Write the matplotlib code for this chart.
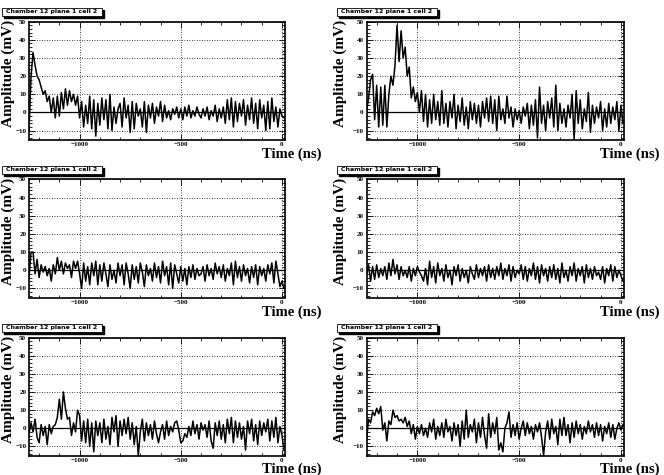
import numpy as np
import matplotlib
matplotlib.use("Agg")
import matplotlib.pyplot as plt
from matplotlib.ticker import MultipleLocator
from matplotlib.patches import Rectangle

# sample times in ns (10 ns steps)
t = np.arange(-1250, 11, 10)

sig_1 = [-10, 20, 33, 26, 20, 18, 14, 10, 12, 6, 9, 0, 8, -3, 9, -2, 11, 2, 13, 4,
         12, 6, 10, 4, 9, -3, 6, -8, 4, -6, 9, -9, 7, -13, 5, -7, 8, -4, 7, -9,
         10, -10, 3, -6, 2, 5, -8, 8, -3, 4, -11, 6, -9, 5, -2, 2, -8, 6, -11, 4,
         -3, 5, -6, 3, -2, 6, -5, 4, -3, 1, -4, 2, -1, 3, -3, 2, -4, 3, -2, 4,
         -3, 1, -2, 3, -1, -3, 2, -2, 3, -4, 1, -2, 4, -5, 2, -3, 3, -6, 7, -4,
         8, -8, 6, -5, 5, -2, 7, -7, 4, -4, 8, -6, 5, -9, 7, -3, 4, -10, 6, -9,
         8, -5, 3, -8, 2, -2, -3]

sig_2 = [0, 8, 18, 21, -4, 15, -8, 14, -7, 15, -8, 10, 20, 15, 26, 48, 28, 45, 30, 36,
         20, 25, 8, 14, 6, 11, 0, 12, -5, 10, -8, 7, -6, 10, -4, 6, -7, 12, -6, 5,
         -8, 6, -3, 10, -9, 4, -5, 8, -7, 3, -9, 6, -4, 5, -6, 4, -8, 6, -3, 8,
         -5, 9, -6, 7, -10, 9, -4, 2, -6, 9, -3, 3, -8, 2, -4, 1, -6, 3, -2, 5,
         -9, 4, -7, 7, -14, 14, -6, 4, -10, 6, -3, 8, -8, 15, -10, 5, -6, 2, -8, 4,
         -3, 10, -15, 12, -6, 7, -9, 2, -5, 11, -11, 4, -6, 3, -3, 6, -10, 2, -8, 5,
         -6, 3, -4, 6, -10, 4, -6]

sig_3 = [-4, 10, 10, -2, 6, -4, 3, -1, 2, -3, 1, -6, 3, -2, 7, 0, 5, -2, 4, 1,
         3, -4, 5, 1, 5, -2, -10, 4, -6, 2, -8, 4, -3, 5, -8, 3, -6, 4, -2, -9,
         3, -5, 0, -7, 4, -3, 3, -8, 4, -2, -10, 3, -5, 2, -7, 4, -1, -9, 3, -3,
         1, -6, 4, -4, 2, -7, 5, -3, 2, -8, 4, -10, 3, -2, -7, 2, -6, 1, -8, 2,
         -4, 3, -5, 1, -3, -2, 2, -6, 3, -3, 1, -5, 4, -2, 2, -4, 3, -6, 1, -3,
         4, -8, 5, -4, 2, -6, 3, -3, 1, -7, 2, -4, 3, -8, 2, -3, 1, -6, 3, -2,
         4, -7, 5, -2, -9, -6, -10]

sig_4 = [-2, 3, -6, 2, -5, 3, -4, 1, -3, 2, -5, 4, -3, 6, -2, 3, -5, 2, -3, 0,
         -4, 2, -6, 1, -3, 2, -1, -3, -6, 1, -8, 5, -4, 2, -7, 4, -3, 1, -6, 3,
         -4, 0, -8, 2, -3, 3, -6, 1, -4, 0, -7, 2, -2, -5, 3, -4, 1, -3, 2, -6,
         3, -4, 1, -5, 2, -3, 4, -5, 1, -3, 3, -6, 2, -4, 0, -2, 3, -5, 2, -6,
         1, -3, 4, -5, 2, -7, 3, -3, 1, -6, 2, -4, 3, -5, 1, -7, 4, -4, 0, -6,
         2, -3, 4, -6, 1, -3, 2, -7, 3, -4, 1, -5, 2, -3, -1, -5, 2, -7, 1, -3,
         3, -6, 2, -4, 0, -3, -6]

sig_5 = [-3, 3, -2, 5, -5, -8, 2, -4, 1, -9, 2, -3, 1, 2, 6, 16, 5, 20, 11, 5,
         6, -4, 3, -2, 10, 7, -7, 4, -8, 5, -10, 3, -13, 4, -4, 3, -8, 5, -6, 1,
         -9, 6, -2, 7, -10, 4, -4, 5, -3, 6, -6, 3, -9, 1, -15, -2, 5, -7, 3, -4,
         2, -6, 4, -3, -8, -2, 2, -6, 4, -4, 1, -2, 3, 4, -1, -8, -7, -3, -5, 1,
         -4, 4, -3, 2, -6, 3, -1, 2, -5, 4, -7, -11, 3, -4, 4, -6, 2, -8, 5, -3,
         6, -8, 4, -5, 3, -6, 1, -12, 4, -3, 5, -7, 2, -9, 4, -4, 3, -2, 5, -7,
         4, -5, 6, -8, 1, -4, -12]

sig_6 = [-7, 5, 3, 9, 7, 11, 8, 12, -1, 3, -7, 4, 2, 10, 6, 7, 4, 5, 3, 6,
         1, 4, -3, 2, -6, 1, -3, 2, -4, 0, -5, 3, -2, 5, -6, 1, -4, 3, -5, 5,
         -2, 1, -7, 3, -4, 2, -10, 4, -6, 10, -5, 2, -2, 5, -8, 3, -5, 6, -4, -11,
         8, -5, 3, -3, 6, -12, -8, -13, 0, 3, 9, -5, 2, -4, 3, -6, 0, 4, -4, 3,
         -3, 1, -6, 2, -2, 3, -5, -15, -2, 4, -6, 5, -3, 1, -9, 5, -4, 6, -4, 2,
         -8, 3, -5, 4, -3, 2, -6, 1, -3, 4, -2, 2, -5, 3, -4, 2, -7, 1, -3, 3,
         -5, 2, -6, 0, 3, -1, 2]

signals = [sig_1, sig_2, sig_3, sig_4, sig_5, sig_6]
title = "Chamber 12 plane 1 cell 2"

W, H = 664, 475
fig = plt.figure(figsize=(W / 100, H / 100), dpi=100)

serif = "Liberation Serif"
lefts = [29, 366.5]
tops = [21.7, 179.5, 337.5]
pw, ph = [256, 257.5], 118

for k, sig in enumerate(signals):
    row, col = k // 2, k % 2
    x0 = lefts[col]
    y0 = tops[row]
    ax = fig.add_axes([x0 / W, 1 - (y0 + ph) / H, pw[col] / W, ph / H])
    ax.plot(t, sig, color="black", lw=1.1)
    ax.axhline(0, color="black", lw=0.9)
    ax.set_xlim(-1250, 15)
    ax.set_ylim(-15, 50)
    ax.xaxis.set_major_locator(MultipleLocator(500))
    ax.xaxis.set_minor_locator(MultipleLocator(100))
    ax.yaxis.set_major_locator(MultipleLocator(10))
    ax.yaxis.set_minor_locator(MultipleLocator(2))
    ax.tick_params(which="both", direction="in", top=True, right=True,
                   labelsize=5, pad=2, width=0.6)
    ax.tick_params(which="major", length=4)
    ax.tick_params(which="minor", length=2)
    for lab in ax.get_xticklabels() + ax.get_yticklabels():
        lab.set_fontfamily(serif)
        lab.set_fontweight("bold")
    ax.grid(True, which="major", color="black", ls=(0, (1, 2)), lw=0.6)
    for s in ax.spines.values():
        s.set_linewidth(1.2)

    # axis titles in figure pixels
    lx = 8 if col == 0 else x0 - 26
    fig.text(lx / W, 1 - (y0 + 52) / H, "Amplitude (mV)", rotation=90,
             ha="center", va="center", fontsize=11, fontweight="bold",
             family=serif)
    ty = y0 + 133 if row < 2 else y0 + 131.5
    fig.text((x0 + 293) / W, 1 - ty / H, "Time (ns)", ha="right",
             va="center", fontsize=10.5, fontweight="bold", family=serif)

    # title box with shadow
    bx = x0 - 27 if col == 0 else x0 - 29.5
    by = y0 - 14
    fig.patches.append(Rectangle(((bx + 2) / W, 1 - (by + 10) / H), 100 / W, 8 / H,
                                 transform=fig.transFigure, color="black", zorder=5))
    fig.patches.append(Rectangle((bx / W, 1 - (by + 8) / H), 100 / W, 8 / H,
                                 transform=fig.transFigure, facecolor="white",
                                 edgecolor="black", lw=0.6, zorder=6))
    fig.text((bx + 50) / W, 1 - (by + 4) / H, title, ha="center", va="center",
             fontsize=4.5, fontweight="bold", zorder=7)

fig.savefig("out.png", dpi=100)
